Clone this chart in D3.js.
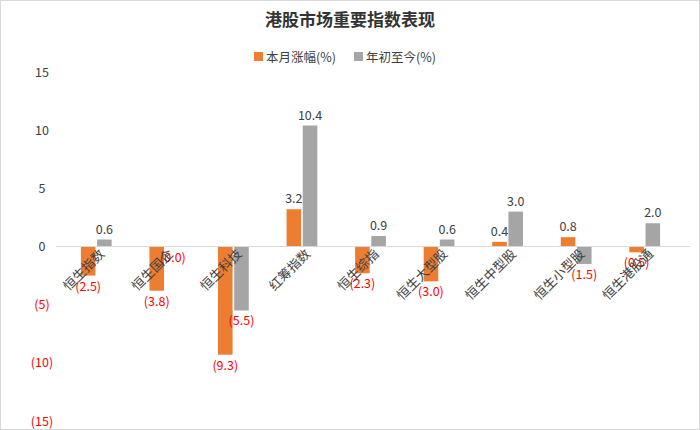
<!DOCTYPE html>
<html><head><meta charset="utf-8">
<script src="https://cdn.jsdelivr.net/npm/d3@7"></script>
<style>body{margin:0;background:#fff}</style>
</head><body>
<script>
var w = 700, h = 430;
var categories = ["恒生指数","恒生国企","恒生科技","红筹指数","恒生综指","恒生大型股","恒生中型股","恒生小型股","恒生港股通"];
var monthly = [-2.5, -3.8, -9.3, 3.2, -2.3, -3.0, 0.4, 0.8, -0.5];
var ytd = [0.6, -0.04, -5.5, 10.4, 0.9, 0.6, 3.0, -1.5, 2.0];
var yTicks = [15, 10, 5, 0, -5, -10, -15];
var seriesNames = ["本月涨幅(%)", "年初至今(%)"];
var colors = ["#ED7D31", "#A5A5A5"];

var font = "'Noto Sans CJK SC', 'Noto Sans', sans-serif";
var svg = d3.select("body").append("svg").attr("width", w).attr("height", h)
    .style("font-family", font);

svg.append("rect").attr("x", 0.5).attr("y", 0.5).attr("width", w - 1).attr("height", h - 1)
    .attr("fill", "#fff").attr("stroke", "#d9d9d9");

function fmt(v) {
    return v < 0 ? "(" + d3.format(".1f")(-v) + ")" : d3.format(".1f")(v);
}

var y = d3.scaleLinear().domain([-15, 15]).range([421, 72]);
var x0 = d3.scaleBand().domain(categories).range([62, 679]);
var x1 = d3.scaleBand().domain([0, 1]).range([-17, 17]).padding(0.1);
function cx(c) { return x0(c) + x0.bandwidth() / 2; }

svg.append("text").attr("x", w / 2).attr("y", 26).attr("text-anchor", "middle")
    .attr("font-size", 17).attr("font-weight", "bold").attr("fill", "#333")
    .text("港股市场重要指数表现");

var leg = svg.append("g").attr("transform", "translate(254,57)");
seriesNames.forEach(function(n, i) {
    var g = leg.append("g").attr("transform", "translate(" + (i * 100) + ",0)");
    g.append("rect").attr("x", 0).attr("y", -5).attr("width", 9).attr("height", 9).attr("fill", colors[i]);
    g.append("text").attr("x", 12).attr("y", 4.5).attr("font-size", 12.5).attr("fill", "#404040").text(n);
});

var yAxis = svg.append("g").attr("transform", "translate(42,0)")
    .call(d3.axisLeft(y).tickValues(yTicks).tickSize(0).tickPadding(0).tickFormat(function(d) { return d < 0 ? "(" + (-d) + ")" : d; }));
yAxis.select(".domain").remove();
yAxis.selectAll("text").attr("font-size", 12.5).attr("font-family", font).attr("text-anchor", "middle")
    .attr("fill", function(d) { return d < 0 ? "#FF0000" : "#404040"; });

var series = [monthly, ytd];
series.forEach(function(vals, s) {
    svg.append("g").selectAll("rect").data(vals).enter().append("rect")
        .attr("x", function(d, i) { return cx(categories[i]) + x1(s); })
        .attr("y", function(d) { return y(Math.max(0, d)); })
        .attr("width", x1.bandwidth())
        .attr("height", function(d) { return Math.abs(y(d) - y(0)); })
        .attr("fill", colors[s]);
});

svg.append("line").attr("x1", 56).attr("x2", 690).attr("y1", y(0)).attr("y2", y(0))
    .attr("stroke", "#d9d9d9");

series.forEach(function(vals, s) {
    svg.append("g").selectAll("text").data(vals).enter().append("text")
        .attr("x", function(d, i) { return cx(categories[i]) + x1(s) + x1.bandwidth() / 2; })
        .attr("y", function(d) { return d < 0 ? y(d) + 15 : y(d) - 6; })
        .attr("text-anchor", "middle").attr("font-size", 12.5)
        .attr("fill", function(d) { return d < 0 ? "#FF0000" : "#404040"; })
        .text(fmt);
});

svg.append("g").selectAll("text").data(categories).enter().append("text")
    .attr("transform", function(d) { return "translate(" + (cx(d) + 6) + "," + (y(0) + 5) + ") rotate(-45)"; })
    .attr("text-anchor", "end").attr("dy", "0.35em").attr("font-size", 13).attr("fill", "#404040")
    .text(function(d) { return d; });
</script>
</body></html>
